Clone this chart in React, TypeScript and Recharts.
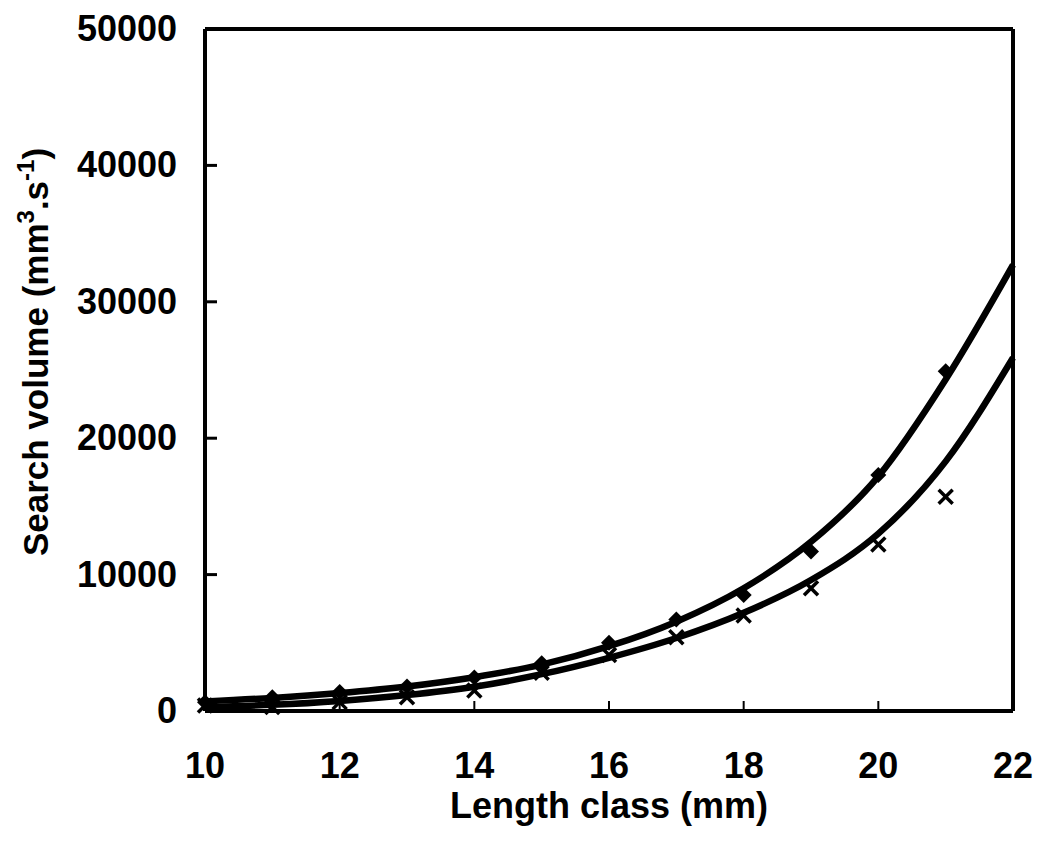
import React from 'react'
import {
  ComposedChart,
  Line,
  Scatter,
  XAxis,
  YAxis,
  ReferenceLine
} from 'recharts'

// Measured search volume per length class
const lengthClasses = [10, 11, 12, 13, 14, 15, 16, 17, 18, 19, 20, 21]
const diamondVolumes = [650, 1000, 1400, 1800, 2450, 3500, 5000, 6700, 8500, 11700, 17300, 24900]
const crossVolumes = [400, 300, 650, 1000, 1500, 2800, 4100, 5400, 7000, 9000, 12200, 15700]

// Fitted curves
const fitLengths = [10, 11, 12, 13, 14, 15, 16, 17, 18, 19, 20, 21, 22]
const upperFit = [700, 960, 1320, 1800, 2480, 3400, 4750, 6550, 9000, 12400, 17200, 24300, 32700]
const lowerFit = [280, 450, 740, 1170, 1780, 2700, 3900, 5350, 7200, 9600, 13000, 18300, 25900]

const xTicks = [10, 12, 14, 16, 18, 20, 22]
const yTicks = [0, 10000, 20000, 30000, 40000, 50000]

const fitData = fitLengths.map((length, i) => ({
  length,
  upper: upperFit[i],
  lower: lowerFit[i]
}))
const diamondPoints = lengthClasses.map((length, i) => ({ length, volume: diamondVolumes[i] }))
const crossPoints = lengthClasses.map((length, i) => ({ length, volume: crossVolumes[i] }))

const FONT = '"Liberation Sans", Arial, sans-serif'
const TICK_MARGIN_Y = 28
const TICK_MARGIN_X = 0

const YTick = (props: any) => {
  const { x, y, payload } = props
  const axisX = x + TICK_MARGIN_Y
  const isEdge = payload.value === 0 || payload.value === 50000
  return (
    <g>
      {!isEdge && <line x1={axisX} x2={axisX + 12} y1={y} y2={y} stroke="#000" strokeWidth={3} />}
      <text
        x={x}
        y={y + 12}
        textAnchor="end"
        fontFamily={FONT}
        fontWeight="bold"
        fontSize={36}
        fill="#000"
      >
        {payload.value}
      </text>
    </g>
  )
}

const XTick = (props: any) => {
  const { x, y, payload } = props
  const axisY = y - TICK_MARGIN_X
  const isEdge = payload.value === 10 || payload.value === 22
  return (
    <g>
      {!isEdge && <line x1={x} x2={x} y1={axisY} y2={axisY - 10} stroke="#000" strokeWidth={2} />}
      <text
        x={x}
        y={axisY + 67}
        textAnchor="middle"
        fontFamily={FONT}
        fontWeight="bold"
        fontSize={36}
        fill="#000"
      >
        {payload.value}
      </text>
    </g>
  )
}

const YTitle = () => (
  <text
    x={0}
    y={0}
    transform="translate(48, 352) rotate(-90)"
    textAnchor="middle"
    fontFamily={FONT}
    fontWeight="bold"
    fontSize={35}
    fill="#000"
  >
    Search volume (mm
    <tspan fontSize={24} dy={-14}>3</tspan>
    <tspan dy={14}>.s</tspan>
    <tspan fontSize={24} dy={-14}>-1</tspan>
    <tspan dy={14}>)</tspan>
  </text>
)

const XTitle = () => (
  <text
    x={609}
    y={818}
    textAnchor="middle"
    fontFamily={FONT}
    fontWeight="bold"
    fontSize={36}
    fill="#000"
  >
    Length class (mm)
  </text>
)

const Diamond = (props: any) => {
  const { cx, cy } = props
  const r = 8
  return <path d={`M${cx},${cy - r}L${cx + r},${cy}L${cx},${cy + r}L${cx - r},${cy}Z`} fill="#000" />
}

const Cross = (props: any) => {
  const { cx, cy } = props
  const r = 7
  return (
    <g stroke="#000" strokeWidth={3.5}>
      <line x1={cx - r} y1={cy - r} x2={cx + r} y2={cy + r} />
      <line x1={cx - r} y1={cy + r} x2={cx + r} y2={cy - r} />
    </g>
  )
}

export default function App() {
  return (
    <div style={{ position: 'absolute', left: 0, top: 0, background: '#fff' }}>
      <ComposedChart
        width={1044}
        height={855}
        data={fitData}
        margin={{ top: 29, right: 31, left: 0, bottom: 0 }}
      >
        <XAxis
          dataKey="length"
          type="number"
          domain={[10, 22]}
          ticks={xTicks}
          height={144}
          tickSize={0}
          tickMargin={TICK_MARGIN_X}
          tick={<XTick />}
          axisLine={{ stroke: '#000', strokeWidth: 4 }}
          tickLine={false}
          interval={0}
        />
        <YAxis
          type="number"
          domain={[0, 50000]}
          ticks={yTicks}
          width={205}
          tickSize={0}
          tickMargin={TICK_MARGIN_Y}
          tick={<YTick />}
          axisLine={{ stroke: '#000', strokeWidth: 4 }}
          tickLine={false}
          interval={0}
        />
        <ReferenceLine y={50000} stroke="#000" strokeWidth={4} />
        <ReferenceLine x={22} stroke="#000" strokeWidth={4} />
        <Line
          dataKey="upper"
          type="monotone"
          stroke="#000"
          strokeWidth={6.5}
          dot={false}
          isAnimationActive={false}
        />
        <Line
          dataKey="lower"
          type="monotone"
          stroke="#000"
          strokeWidth={6.5}
          dot={false}
          isAnimationActive={false}
        />
        <Scatter data={diamondPoints} dataKey="volume" shape={<Diamond />} isAnimationActive={false} />
        <Scatter data={crossPoints} dataKey="volume" shape={<Cross />} isAnimationActive={false} />
        <YTitle />
        <XTitle />
      </ComposedChart>
    </div>
  )
}
